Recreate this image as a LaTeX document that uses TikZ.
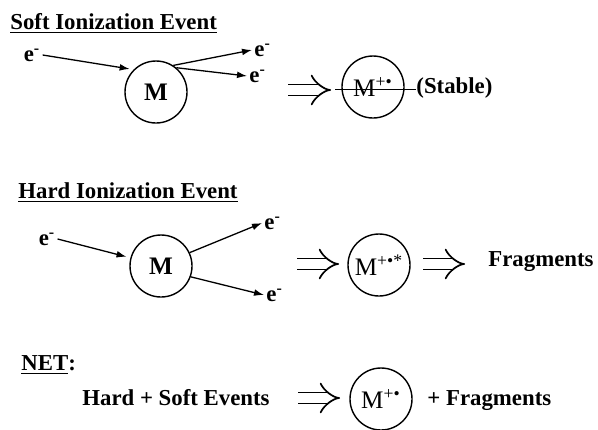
\documentclass[tikz,border=0pt]{standalone}
\usepackage{fontspec}
\setmainfont{Liberation Serif}
\usepackage{amsmath}
\usetikzlibrary{arrows.meta}
\tikzset{
  ionbox/.style={circle, draw, line width=0.7pt, minimum size=31pt, inner sep=0pt, font=\fontsize{12.6}{14}\selectfont\bfseries},
  iontext/.style={font=\fontsize{12.6}{14}\selectfont\mdseries},
  elabel/.style={inner sep=1pt},
  ionarrow/.style={line width=0.65pt, -{Latex[length=5pt,width=3.4pt]}},
  netarrow/.style={double, double distance=4.6pt, line width=0.85pt, -{Implies}},
}
\newcommand{\elec}{e\textsuperscript{-}}
\begin{document}
\begin{tikzpicture}[x=0.5pt, y=-0.5pt]
        \useasboundingbox (0,0) rectangle (598,429);
        {\fontsize{11.4}{13}\selectfont\bfseries

        % Soft ionization event
        \node [anchor=base west, inner sep=0pt] (softtitle) at (10,29) {\underline{Soft Ionization Event}};%

        % Marking molecule M and the electrons
        \node [ionbox] (softM) at (156,92) {M};%
        \node [elabel] (softein) at (32,55) {\elec};%
        \node [elabel, anchor=west] (softeup) at (252,50) {\elec};%
        \node [elabel, anchor=west] (softedn) at (247,76) {\elec};%

        % Drawing electron paths
        \draw [ionarrow, shorten >=2pt] (softein.east) -- (softM.135);%
        \draw [ionarrow] (softM.57) -- (softeup.west);%
        \draw [ionarrow] (softM.50) -- (softedn.west);%

        % Drawing implication to stable ion
        \coordinate (softimpa) at (288,90);%
        \coordinate (softimpb) at (331,90);%
        \draw [netarrow] (softimpa) -- (softimpb);%
        \node [ionbox, iontext] (softion) at (373,87) {M\textsuperscript{+\textbullet}};%
        \node [anchor=base west, inner sep=0pt] (stable) at (416,93) {(Stable)};%
        \coordinate (softcut) at (335,89);%
        \draw [line width=0.5pt] (softcut) -- (stable.west |- softcut);%

        % Hard ionization event
        \node [anchor=base west, inner sep=0pt] (hardtitle) at (18,198) {\underline{Hard Ionization Event}};%

        % Marking molecule M and the electrons
        \node [ionbox] (hardM) at (161,266) {M};%
        \node [elabel] (hardein) at (47,239) {\elec};%
        \node [elabel, anchor=west] (hardeup) at (262,223) {\elec};%
        \node [elabel, anchor=west] (hardedn) at (264,295) {\elec};%

        % Drawing electron paths
        \draw [ionarrow, shorten >=2pt] (hardein.east) -- (hardM.165);%
        \draw [ionarrow] (hardM.25) -- (hardeup.west);%
        \draw [ionarrow] (hardM.-20) -- (hardedn.west);%

        % Drawing implications to excited ion and fragments
        \coordinate (hardimpa) at (297,264);%
        \coordinate (hardimpb) at (339,264);%
        \draw [netarrow] (hardimpa) -- (hardimpb);%
        \node [ionbox, iontext] (hardion) at (379,265) {M\textsuperscript{+\textbullet*}};%
        \coordinate (fragimpa) at (423,264);%
        \coordinate (fragimpb) at (465,264);%
        \draw [netarrow] (fragimpa) -- (fragimpb);%
        \node [anchor=base west, inner sep=0pt] (hardfrag) at (488,266) {Fragments};%

        % Net result
        \node [anchor=base west, inner sep=0pt] (nettitle) at (21,370) {\underline{NET}:};%
        \node [anchor=base west, inner sep=0pt] (netsum) at (82,405) {Hard + Soft Events};%
        \coordinate (netimpa) at (298,398);%
        \coordinate (netimpb) at (340,398);%
        \draw [netarrow] (netimpa) -- (netimpb);%
        \node [ionbox, iontext] (netion) at (381,399) {M\textsuperscript{+\textbullet}};%
        \node [anchor=base west, inner sep=0pt] (netfrag) at (427,405) {+ Fragments};%
        }
\end{tikzpicture}
\end{document}
